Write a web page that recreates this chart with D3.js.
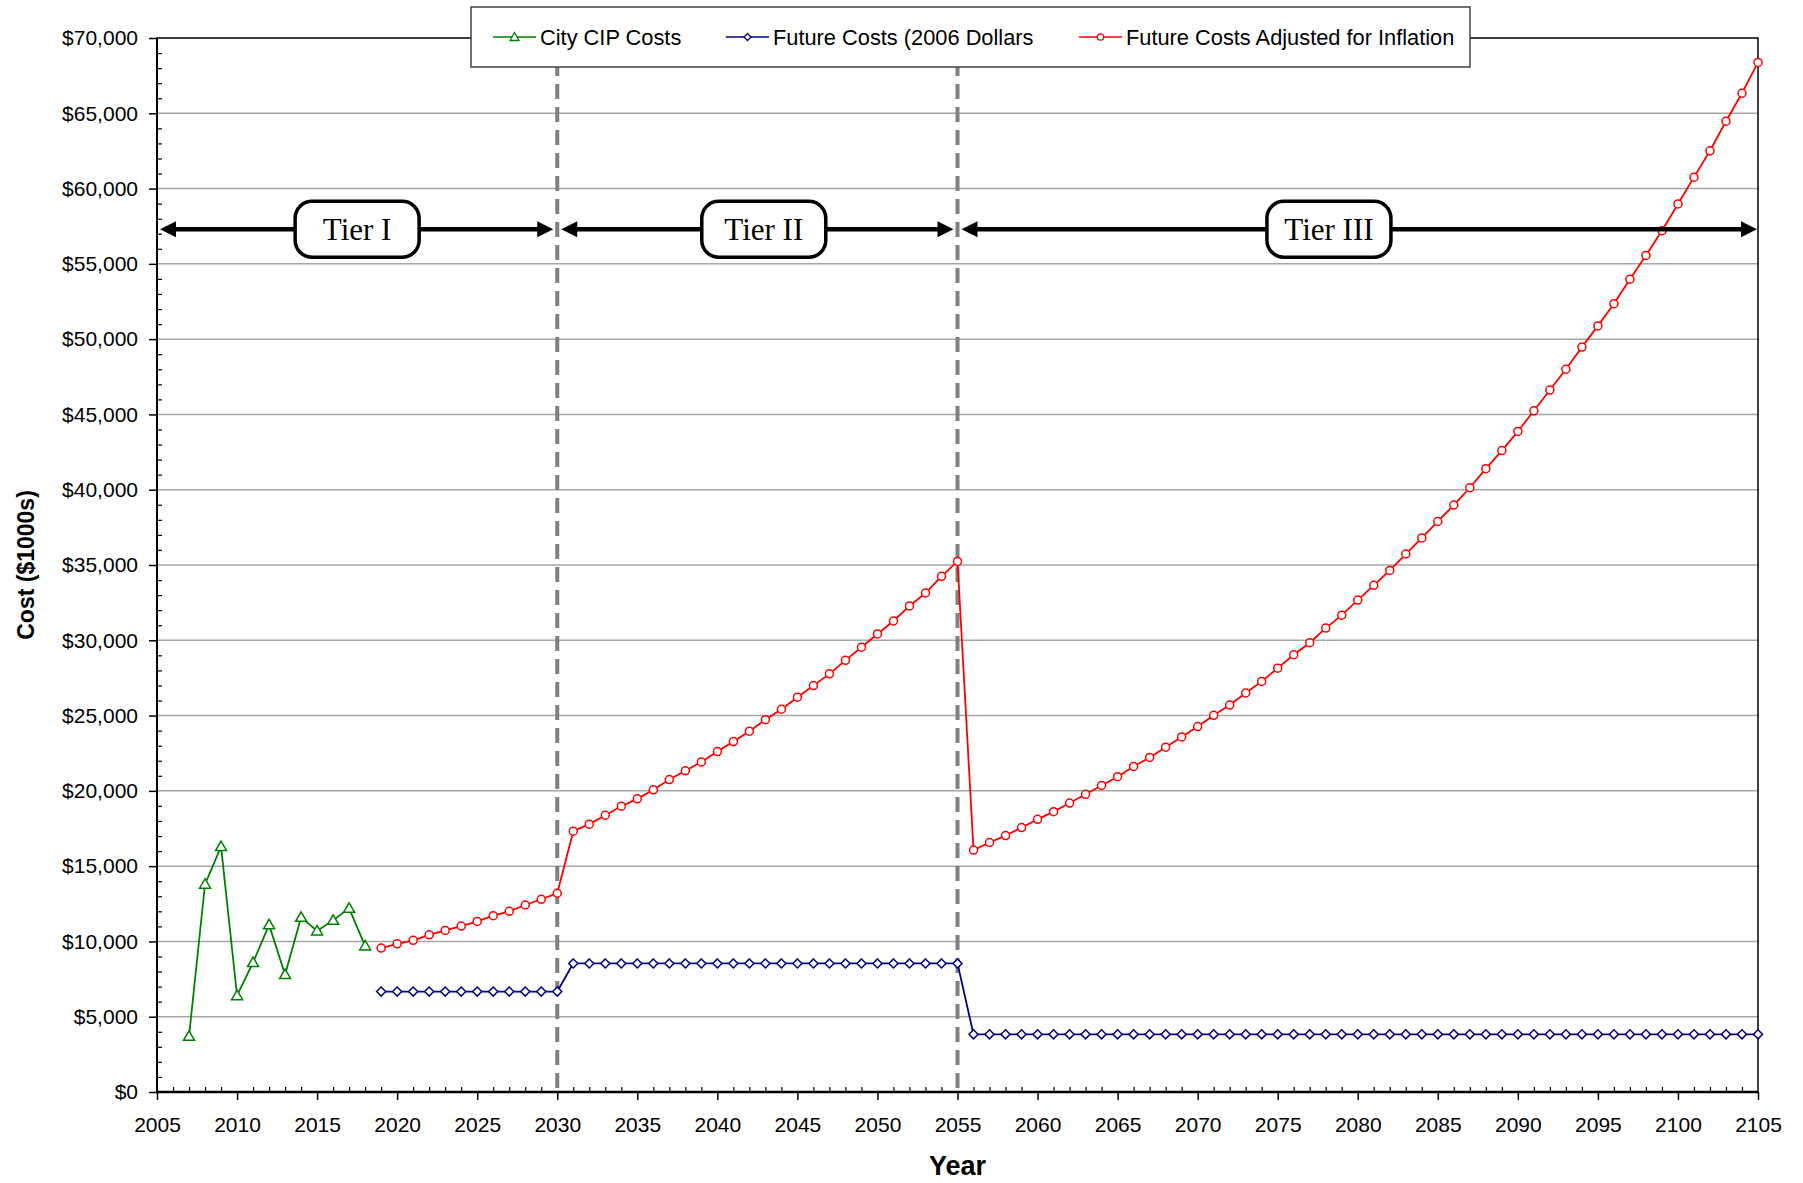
<!DOCTYPE html>
<html>
<head>
<meta charset="utf-8">
<script src="https://cdn.jsdelivr.net/npm/d3@7"></script>
<style>
  body { margin: 0; background: #fff; }
  svg { display: block; font-family: "Liberation Sans", Arial, sans-serif; }
</style>
</head>
<body>
<div id="chart"></div>
<script>
// City CIP costs, 2007-2018
const cipYears = [2007, 2008, 2009, 2010, 2011, 2012, 2013, 2014, 2015, 2016, 2017, 2018];
const cipCosts = [3700, 13800, 16300, 6400, 8600, 11100, 7800, 11600, 10700, 11400, 12200, 9700];

// future series start in 2019, one value per year up to 2105
const futureStartYear = 2019;
const futureCosts2006 = [
  6670, 6670, 6670, 6670, 6670, 6670, 6670, 6670, 6670, 6670, 6670, 6670,
  8540, 8540, 8540, 8540, 8540, 8540, 8540, 8540, 8540, 8540, 8540, 8540, 8540,
  8540, 8540, 8540, 8540, 8540, 8540, 8540, 8540, 8540, 8540, 8540, 8540,
  3830, 3830, 3830, 3830, 3830, 3830, 3830, 3830, 3830, 3830,
  3830, 3830, 3830, 3830, 3830, 3830, 3830, 3830, 3830, 3830,
  3830, 3830, 3830, 3830, 3830, 3830, 3830, 3830, 3830, 3830,
  3830, 3830, 3830, 3830, 3830, 3830, 3830, 3830, 3830, 3830,
  3830, 3830, 3830, 3830, 3830, 3830, 3830, 3830, 3830, 3830
];
const futureCostsInflated = [
  9560, 9840, 10070, 10440, 10730, 11020, 11330, 11710, 12000, 12420, 12800, 13200,
  17320, 17790, 18380, 18980, 19470, 20070, 20750, 21330, 21920, 22610, 23270, 23960, 24730,
  25420, 26220, 26990, 27770, 28670, 29540, 30420, 31280, 32280, 33140, 34250, 35240,
  16070, 16570, 17030, 17560, 18110, 18620, 19190, 19770, 20360, 20940,
  21620, 22220, 22900, 23580, 24270, 25020, 25700, 26500, 27270, 28150,
  29040, 29840, 30810, 31670, 32670, 33650, 34640, 35730, 36800, 37890,
  38980, 40130, 41400, 42600, 43870, 45240, 46620, 48000, 49470, 50880,
  52350, 53980, 55560, 57200, 58980, 60760, 62510, 64470, 66330, 68380
];

const seriesNames = ['City CIP Costs', 'Future Costs (2006 Dollars', 'Future Costs Adjusted for Inflation'];

// tiers
const tierLabels = ['Tier I', 'Tier II', 'Tier III'];
const tierStart = [2005, 2030, 2055];
const tierEnd = [2030, 2055, 2105];
const tierLabelYear = [2017.5, 2042.9, 2078.2];
const tierArrowValue = 57300;
const tierBreaks = [2030, 2055];

// axes
const xTicks = [2005, 2010, 2015, 2020, 2025, 2030, 2035, 2040, 2045, 2050, 2055,
  2060, 2065, 2070, 2075, 2080, 2085, 2090, 2095, 2100, 2105];
const yTicks = [0, 5000, 10000, 15000, 20000, 25000, 30000, 35000, 40000, 45000,
  50000, 55000, 60000, 65000, 70000];

(() => {
  const W = 1803, H = 1183;
  const margin = { top: 38, right: 45, bottom: 91, left: 157 },
    width = W - margin.left - margin.right,
    height = H - margin.top - margin.bottom;

  const colors = ['#008000', '#000080', '#ff0000'];

  const svg = d3.select('#chart')
    .append('svg')
    .attr('width', W)
    .attr('height', H);

  const g = svg.append('g')
    .attr('transform', `translate(${margin.left},${margin.top})`);

  const x = d3.scaleLinear().domain([2005, 2105]).range([0, width]);
  const y = d3.scaleLinear().domain([0, 70000]).range([height, 0]);

  const cipData = cipYears.map((yr, i) => ({ year: yr, value: cipCosts[i] }));
  const blueData = futureCosts2006.map((v, i) => ({ year: futureStartYear + i, value: v }));
  const redData = futureCostsInflated.map((v, i) => ({ year: futureStartYear + i, value: v }));

  // gridlines
  g.append('g')
    .selectAll('line')
    .data(yTicks.filter(d => d > 0 && d < 70000))
    .enter()
    .append('line')
    .attr('x1', 0).attr('x2', width)
    .attr('y1', d => y(d)).attr('y2', d => y(d))
    .attr('stroke', '#a6a6a6')
    .attr('stroke-width', 1.5);

  // minor ticks (inside)
  const minorY = d3.range(1000, 70000, 1000).filter(d => d % 5000 !== 0);
  const minorX = d3.range(2006, 2105, 1).filter(d => d % 5 !== 0);

  g.append('g')
    .call(d3.axisRight(y).tickValues(minorY).tickSize(5).tickFormat(''))
    .call(a => a.select('.domain').remove())
    .selectAll('line').attr('stroke', '#000').attr('stroke-width', 1.2);

  g.append('g')
    .attr('transform', `translate(0,${height})`)
    .call(d3.axisTop(x).tickValues(minorX).tickSize(5).tickFormat(''))
    .call(a => a.select('.domain').remove())
    .selectAll('line').attr('stroke', '#000').attr('stroke-width', 1.2);

  // major axes
  const yAxis = g.append('g')
    .call(d3.axisLeft(y).tickValues(yTicks).tickSize(8).tickPadding(11)
      .tickFormat(d => '$' + d3.format(',')(d)));
  yAxis.select('.domain').remove();
  yAxis.selectAll('line').attr('stroke', '#000').attr('stroke-width', 1.5);
  yAxis.selectAll('text')
    .attr('font-size', 21)
    .attr('fill', '#000');

  const xAxis = g.append('g')
    .attr('transform', `translate(0,${height})`)
    .call(d3.axisBottom(x).tickValues(xTicks).tickSize(8).tickFormat(d3.format('d')));
  xAxis.select('.domain').remove();
  xAxis.selectAll('line').attr('stroke', '#000').attr('stroke-width', 1.5);
  xAxis.selectAll('text')
    .attr('y', 25.5)
    .attr('font-size', 21)
    .attr('fill', '#000');

  // tier break lines
  g.append('g')
    .selectAll('line')
    .data(tierBreaks)
    .enter()
    .append('line')
    .attr('x1', d => x(d)).attr('x2', d => x(d))
    .attr('y1', 0).attr('y2', height)
    .attr('stroke', '#808080')
    .attr('stroke-width', 4)
    .attr('stroke-dasharray', '15,8');

  // frame
  g.append('rect')
    .attr('width', width)
    .attr('height', height)
    .attr('fill', 'none')
    .attr('stroke', '#000')
    .attr('stroke-width', 1.5);
  g.append('line')
    .attr('x1', 0).attr('x2', width)
    .attr('y1', height).attr('y2', height)
    .attr('stroke', '#000').attr('stroke-width', 2.5);
  g.append('line')
    .attr('x1', 0).attr('x2', 0)
    .attr('y1', 0).attr('y2', height)
    .attr('stroke', '#000').attr('stroke-width', 2);

  // series
  const line = d3.line().x(d => x(d.year)).y(d => y(d.value));
  const triangle = 'M0,-5.5L5.5,4L-5.5,4Z';
  const diamond = 'M0,-4.5L4.5,0L0,4.5L-4.5,0Z';

  [cipData, blueData, redData].forEach((data, i) => {
    g.append('path')
      .datum(data)
      .attr('d', line)
      .attr('fill', 'none')
      .attr('stroke', colors[i])
      .attr('stroke-width', 1.8);
  });

  g.append('g')
    .selectAll('path')
    .data(cipData)
    .enter()
    .append('path')
    .attr('d', triangle)
    .attr('transform', d => `translate(${x(d.year)},${y(d.value)})`)
    .attr('fill', '#fff')
    .attr('stroke', colors[0])
    .attr('stroke-width', 1.5);

  g.append('g')
    .selectAll('path')
    .data(blueData)
    .enter()
    .append('path')
    .attr('d', diamond)
    .attr('transform', d => `translate(${x(d.year)},${y(d.value)})`)
    .attr('fill', '#fff')
    .attr('stroke', colors[1])
    .attr('stroke-width', 1.5);

  g.append('g')
    .selectAll('circle')
    .data(redData)
    .enter()
    .append('circle')
    .attr('cx', d => x(d.year))
    .attr('cy', d => y(d.value))
    .attr('r', 4)
    .attr('fill', '#fff')
    .attr('stroke', colors[2])
    .attr('stroke-width', 1.5);

  // tier arrows and labels
  const ay = y(tierArrowValue);
  const head = 16, halfH = 8;
  const tiers = g.append('g');
  tierLabels.forEach((label, i) => {
    const x0 = x(tierStart[i]) + (i === 0 ? 3 : 4);
    const x1 = x(tierEnd[i]) - (i === 2 ? 1 : 4);
    tiers.append('line')
      .attr('x1', x0 + head - 2).attr('x2', x1 - head + 2)
      .attr('y1', ay).attr('y2', ay)
      .attr('stroke', '#000')
      .attr('stroke-width', 4.5);
    tiers.append('path')
      .attr('d', `M${x0},${ay}L${x0 + head},${ay - halfH}L${x0 + head},${ay + halfH}Z`)
      .attr('fill', '#000');
    tiers.append('path')
      .attr('d', `M${x1},${ay}L${x1 - head},${ay - halfH}L${x1 - head},${ay + halfH}Z`)
      .attr('fill', '#000');

    const cx = x(tierLabelYear[i]);
    tiers.append('rect')
      .attr('x', cx - 62).attr('y', ay - 28)
      .attr('width', 124).attr('height', 56)
      .attr('rx', 17).attr('ry', 17)
      .attr('fill', '#fff')
      .attr('stroke', '#000')
      .attr('stroke-width', 3.5);
    tiers.append('text')
      .attr('x', cx).attr('y', ay)
      .attr('dy', '0.35em')
      .attr('text-anchor', 'middle')
      .attr('font-family', '"Liberation Serif", "Times New Roman", serif')
      .attr('font-size', 31)
      .attr('fill', '#000')
      .text(label);
  });

  // legend
  const legend = svg.append('g');
  legend.append('rect')
    .attr('x', 471).attr('y', 7)
    .attr('width', 999).attr('height', 60)
    .attr('fill', '#fff')
    .attr('stroke', '#404040')
    .attr('stroke-width', 1.5);

  const legendX = [493, 726, 1079];
  const ly = 37;
  legendX.forEach((lx, i) => {
    legend.append('line')
      .attr('x1', lx).attr('x2', lx + 43)
      .attr('y1', ly).attr('y2', ly)
      .attr('stroke', colors[i])
      .attr('stroke-width', 1.5);
    const mx = lx + 21.5;
    if (i === 0) {
      legend.append('path').attr('d', 'M0,-4.5L4.5,3.5L-4.5,3.5Z');
    } else if (i === 1) {
      legend.append('path').attr('d', 'M0,-3.5L3.5,0L0,3.5L-3.5,0Z');
    } else {
      legend.append('circle').attr('r', 3.2);
    }
    legend.select(':last-child')
      .attr('transform', `translate(${mx},${ly})`)
      .attr('fill', '#fff')
      .attr('stroke', colors[i])
      .attr('stroke-width', 1.3);
    legend.append('text')
      .attr('x', lx + 47).attr('y', ly)
      .attr('dy', '0.35em')
      .attr('font-size', 21.8)
      .attr('fill', '#000')
      .text(seriesNames[i]);
  });

  // axis titles
  svg.append('text')
    .attr('x', margin.left + width / 2)
    .attr('y', 1166)
    .attr('dy', '0.35em')
    .attr('text-anchor', 'middle')
    .attr('font-size', 27)
    .attr('font-weight', 'bold')
    .attr('fill', '#000')
    .text('Year');

  svg.append('text')
    .attr('transform', `translate(26,${margin.top + height / 2}) rotate(-90)`)
    .attr('dy', '0.35em')
    .attr('text-anchor', 'middle')
    .attr('font-size', 23)
    .attr('font-weight', 'bold')
    .attr('fill', '#000')
    .text('Cost ($1000s)');
})();
</script>
</body>
</html>
